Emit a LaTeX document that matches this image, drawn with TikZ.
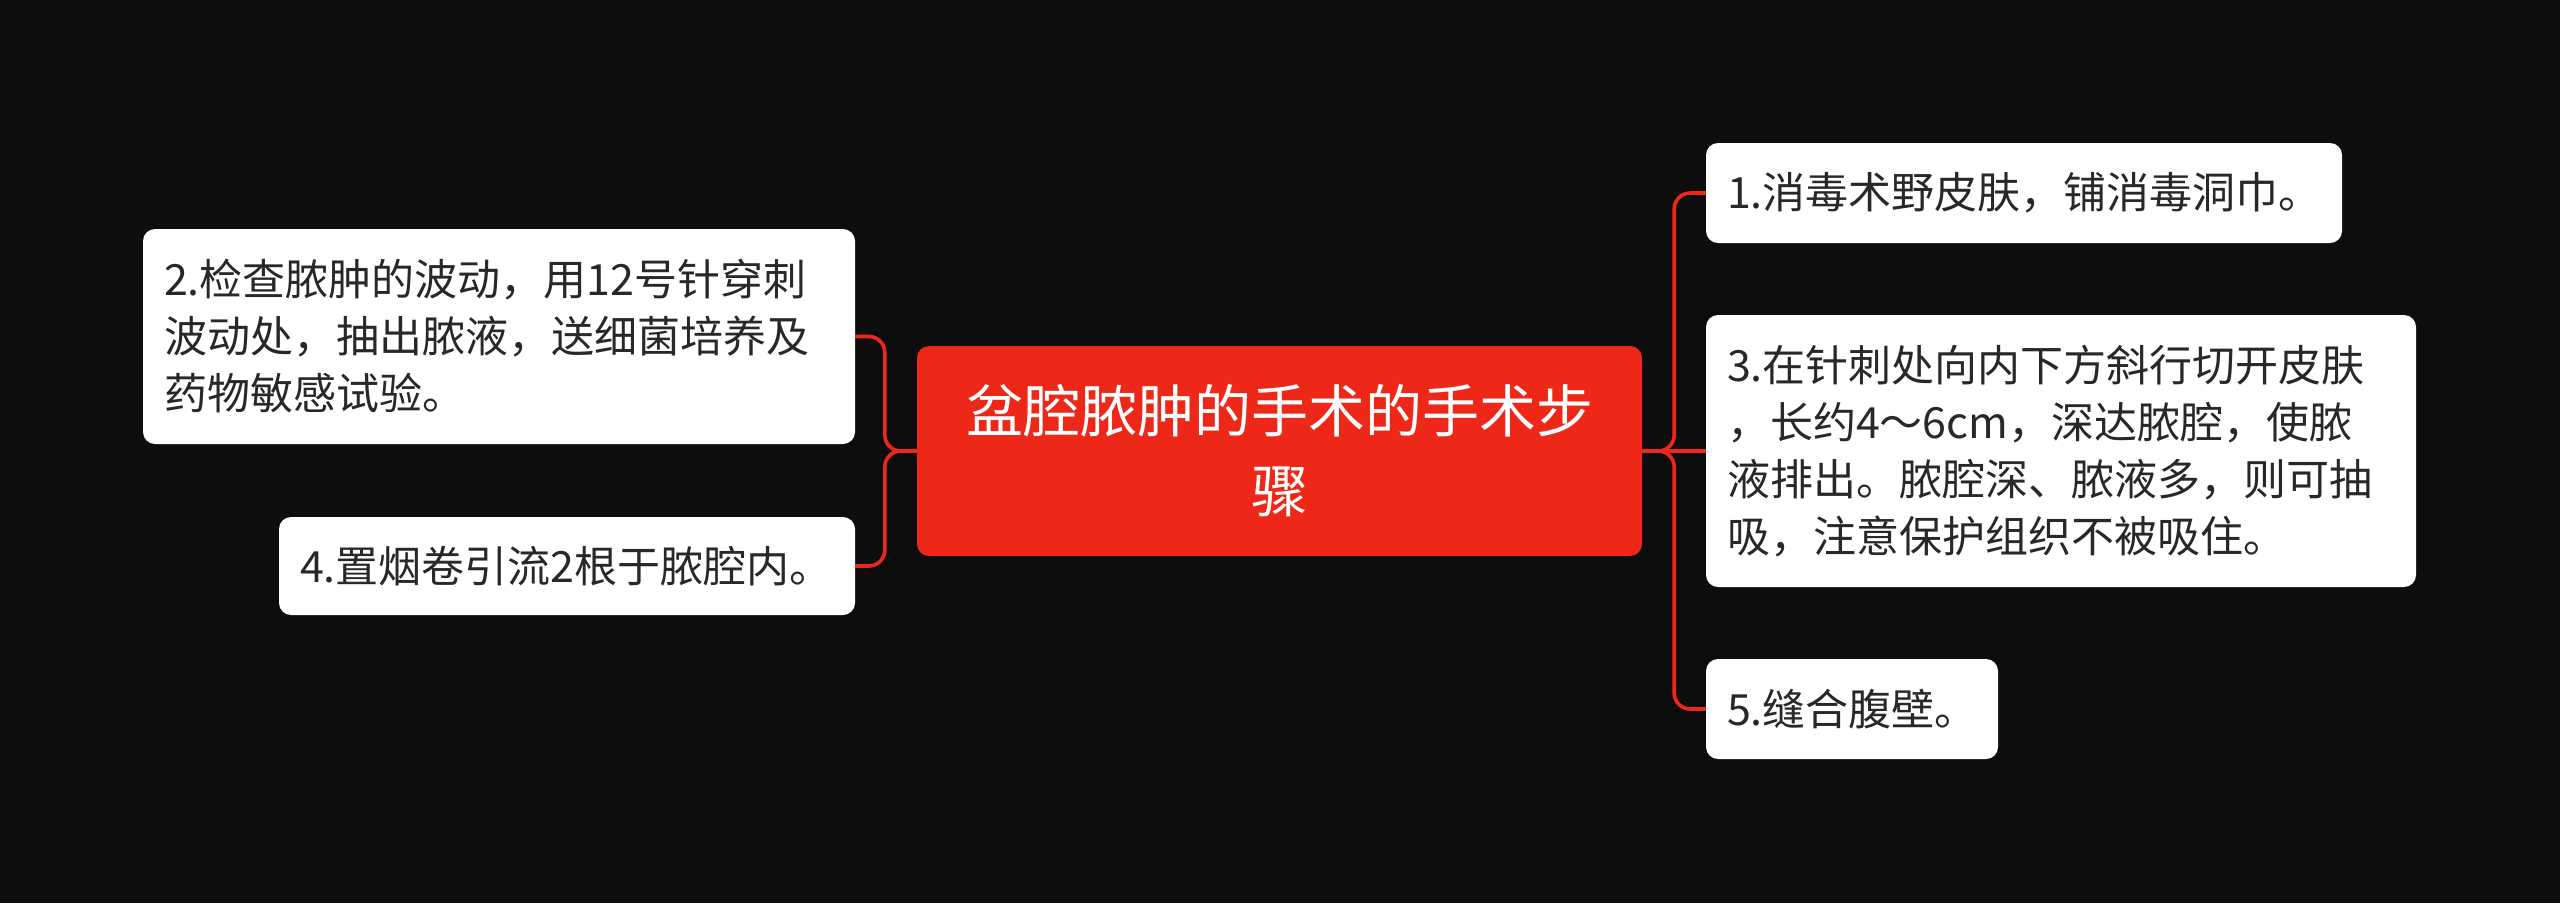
\documentclass[tikz,border=0pt]{standalone}
\usepackage{fontspec}
\setmainfont{Noto Sans CJK SC}
\definecolor{bgc}{RGB}{13,13,13}
\definecolor{redc}{RGB}{238,40,24}
\definecolor{txtc}{RGB}{40,40,40}
\tikzset{
  leaf/.style={draw=none, fill=white, rounded corners=12pt, inner xsep=21pt, inner ysep=0pt,
    align=left, text=txtc, font=\fontsize{43}{57}\selectfont},
  root/.style={draw=none, fill=redc, rounded corners=12pt, inner sep=0pt,
    align=center, text=white, font=\fontsize{57}{80}\selectfont},
  conn/.style={draw=redc, line width=3.6pt, rounded corners=16pt}
}
\begin{document}
\begin{tikzpicture}[x=1pt,y=-1pt]
\useasboundingbox (0,0) rectangle (2560,903);
\fill[bgc] (0,0) rectangle (2560,903);
\node[root, minimum width=725pt, minimum height=210pt, text width=700pt] (c) at (1279.5,451)
  {盆腔脓肿的手术的手术步\\骤};
\node[leaf, minimum width=712pt, minimum height=215pt, text width=670pt] (n2) at (499,336.5)
  {2.检查脓肿的波动，用12号针穿刺\\波动处，抽出脓液，送细菌培养及\\药物敏感试验。};
\node[leaf, minimum width=576pt, minimum height=98pt, text width=534pt] (n4) at (567,566)
  {4.置烟卷引流2根于脓腔内。};
\node[leaf, minimum width=636pt, minimum height=100pt, text width=594pt] (n1) at (2024,193)
  {1.消毒术野皮肤，铺消毒洞巾。};
\node[leaf, minimum width=710pt, minimum height=272pt, text width=668pt] (n3) at (2061,451)
  {3.在针刺处向内下方斜行切开皮肤\\，长约4～6cm，深达脓腔，使脓\\液排出。脓腔深、脓液多，则可抽\\吸，注意保护组织不被吸住。};
\node[leaf, minimum width=292pt, minimum height=100pt, text width=250pt] (n5) at (1852,709)
  {5.缝合腹壁。};
\draw[conn] (c.east) -- ++(32,0) |- (n1.west);
\draw[conn] (c.east) -- (n3.west);
\draw[conn] (c.east) -- ++(32,0) |- (n5.west);
\draw[conn] (c.west) -- ++(-32,0) |- (n2.east);
\draw[conn] (c.west) -- ++(-32,0) |- (n4.east);
\end{tikzpicture}
\end{document}
